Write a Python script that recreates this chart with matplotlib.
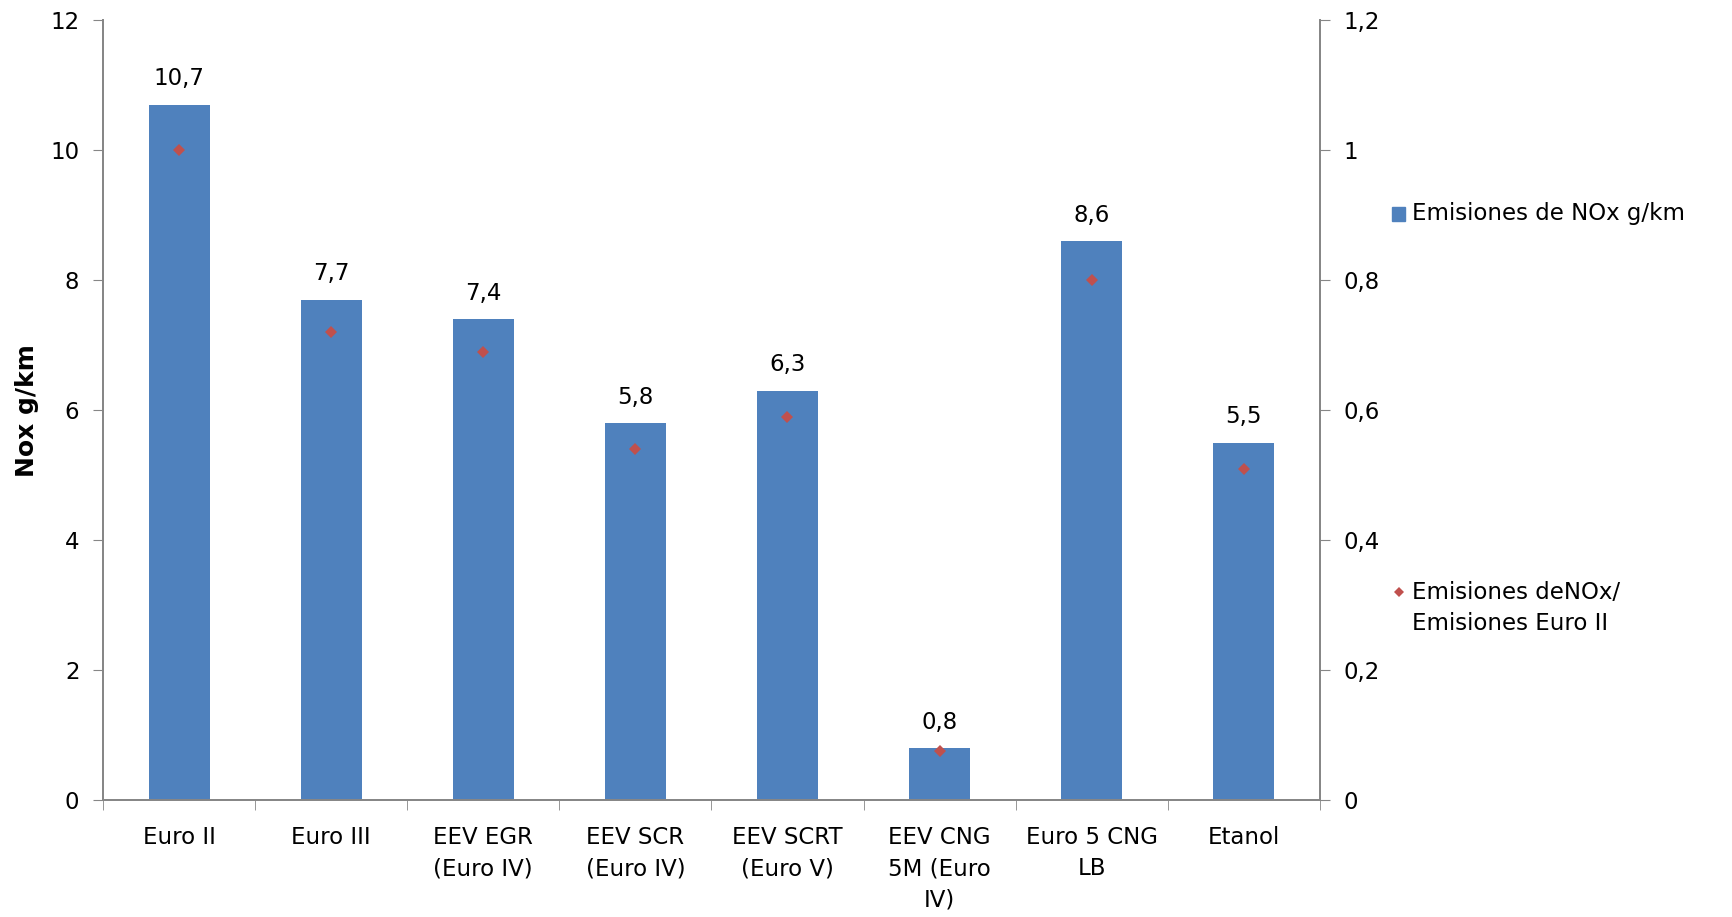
import numpy as np
import matplotlib
matplotlib.use("Agg")
import matplotlib.pyplot as plt
from matplotlib.lines import Line2D
from matplotlib.patches import Rectangle

plt.rcParams["font.family"] = ["DejaVu Sans"]

# categories and series values
categories = ["Euro II", "Euro III", "EEV EGR\n(Euro IV)", "EEV SCR\n(Euro IV)",
              "EEV SCRT\n(Euro V)", "EEV CNG\n5M (Euro\nIV)", "Euro 5 CNG\nLB", "Etanol"]
nox_gkm = [10.7, 7.7, 7.4, 5.8, 6.3, 0.8, 8.6, 5.5]
ratio_euro2 = [1.0, 0.72, 0.69, 0.54, 0.59, 0.075, 0.80, 0.51]
left_ticks = [0, 2, 4, 6, 8, 10, 12]
right_ticks = [0, 0.2, 0.4, 0.6, 0.8, 1.0, 1.2]

bar_color = "#4F81BD"
dot_color = "#C0504D"
axis_color = "#868686"
fs = 16.5

fig = plt.figure(figsize=(17.32, 9.17), dpi=100)
ax = fig.add_axes([0.0595, 0.1276, 0.7025, 0.8504])
ax2 = ax.twinx()

x = np.arange(len(categories))
ax.bar(x, nox_gkm, width=0.4, color=bar_color, zorder=2)
for xi, v in zip(x, nox_gkm):
    ax.text(xi, v + 0.22, f"{v:.1f}".replace(".", ","), ha="center", va="bottom", fontsize=fs)

ax2.plot(x, ratio_euro2, linestyle="none", marker="D", markersize=6.5,
         color=dot_color, markeredgewidth=0, zorder=3)

ax.set_xlim(-0.5, len(categories) - 0.5)
ax.set_ylim(0, 12)
ax2.set_ylim(0, 1.2)
ax.set_yticks(left_ticks)
ax.set_yticklabels([str(t) for t in left_ticks], fontsize=fs)
ax2.set_yticks(right_ticks)
ax2.set_yticklabels([f"{t:g}".replace(".", ",") for t in right_ticks], fontsize=fs)

# category labels centred, tick marks on the boundaries
ax.set_xticks(x)
ax.set_xticklabels(categories, fontsize=fs, linespacing=1.45)
ax.tick_params(axis="x", which="major", length=0, pad=19)
ax.set_xticks(np.arange(-0.5, len(categories)), minor=True)
ax.tick_params(axis="x", which="minor", length=7, color=axis_color, direction="out")
ax.tick_params(axis="y", length=7, color=axis_color, pad=10)
ax2.tick_params(axis="y", length=7, color=axis_color, pad=10)

for a in (ax, ax2):
    a.spines["top"].set_visible(False)
    for s in ("left", "right", "bottom"):
        a.spines[s].set_color(axis_color)
        a.spines[s].set_linewidth(1.3)

ax.set_ylabel("Nox g/km", fontsize=18, fontweight="bold", labelpad=8)

# legend entries, placed by hand in figure coordinates
fig.add_artist(Rectangle((0.8035, 0.759), 0.0075, 0.0155, transform=fig.transFigure,
                         color=bar_color))
fig.text(0.815, 0.767, "Emisiones de NOx g/km", fontsize=fs, va="center")
fig.add_artist(Line2D([0.8075], [0.354], transform=fig.transFigure, linestyle="none",
                      marker="D", markersize=5.5, markeredgewidth=0, color=dot_color))
fig.text(0.815, 0.366, "Emisiones deNOx/\nEmisiones Euro II", fontsize=fs, va="top",
         linespacing=1.45)

fig.savefig("out.png", dpi=100)
